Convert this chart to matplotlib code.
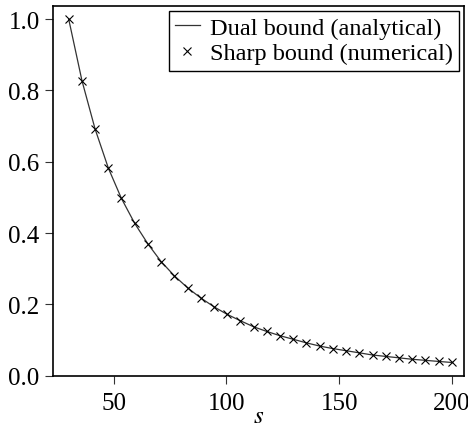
import numpy as np
import matplotlib
matplotlib.use("Agg")
import matplotlib.pyplot as plt

# values
s_vals = [30.0, 35.9, 41.7, 47.6, 53.4, 59.3, 65.2, 71.0, 76.9, 82.8,
          88.6, 94.5, 100.3, 106.2, 112.1, 117.9, 123.8, 129.7, 135.5, 141.4,
          147.2, 153.1, 159.0, 164.8, 170.7, 176.6, 182.4, 188.3, 194.1, 200.0]
bound_vals = [1.000, 0.827, 0.692, 0.582, 0.497, 0.427, 0.369, 0.320, 0.280, 0.246,
              0.218, 0.193, 0.172, 0.154, 0.137, 0.124, 0.112, 0.102, 0.092, 0.083,
              0.076, 0.070, 0.064, 0.058, 0.054, 0.050, 0.046, 0.043, 0.040, 0.037]
x_ticks = [50, 100, 150, 200]
y_ticks = [0.0, 0.2, 0.4, 0.6, 0.8, 1.0]

plt.rcParams['font.family'] = ['Liberation Serif', 'DejaVu Serif']
plt.rcParams['mathtext.fontset'] = 'stix'

fig = plt.figure(figsize=(4.68, 4.27), dpi=100)
ax = fig.add_axes([0.114, 0.117, 0.877, 0.867])

ax.plot(s_vals, bound_vals, color='#333333', lw=0.9, label='Dual bound (analytical)')
ax.plot(s_vals, bound_vals, ls='none', marker='x', ms=5.5, mew=0.8, color='black',
        label='Sharp bound (numerical)')

ax.set_xlim(23.2, 205.3)
ax.set_ylim(-0.001, 1.037)
ax.set_xticks(x_ticks)
ax.set_yticks(y_ticks)
ax.set_yticklabels([f"{v:.1f}" for v in y_ticks])
ax.tick_params(labelsize=18, direction='out', length=5.8, width=0.8, color='#333333',
               top=False, right=False)
ax.tick_params(axis='y', pad=4)
ax.tick_params(axis='x', pad=6)
ax.set_xlabel('$s$', fontsize=18, labelpad=-7)

for sp in ax.spines.values():
    sp.set_linewidth(1.2)

leg = ax.legend(loc='upper right', fontsize=17.5, frameon=True, fancybox=False,
                edgecolor='black', framealpha=1, handlelength=1.05, handletextpad=0.4,
                borderpad=0.25, labelspacing=0.15, borderaxespad=0.2)
leg.get_frame().set_linewidth(1.0)

fig.savefig('out.png', dpi=100)
